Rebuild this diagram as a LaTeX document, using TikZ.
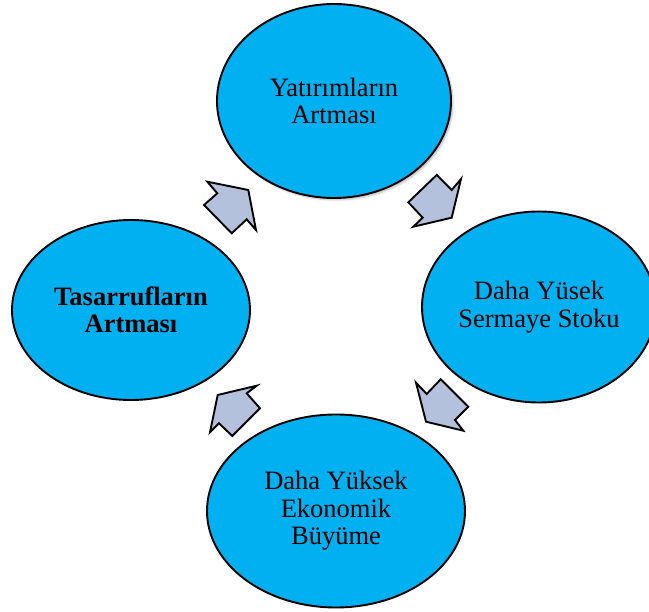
\documentclass[tikz,border=0pt]{standalone}
\usepackage{fontspec}
\setmainfont{Liberation Serif}
\usetikzlibrary{shapes.geometric,shadows.blur}
\definecolor{bubble}{HTML}{00B0F0}
\definecolor{arrowfill}{HTML}{B4C1DC}
\tikzset{
  bubble/.style={ellipse, draw=black, line width=1.9pt, fill=bubble,
    align=center, inner sep=0pt,
    font=\fontsize{26.5}{27.5}\selectfont},
  blockarrow/.style={draw=black, line width=1.9pt, fill=arrowfill, line join=miter}
}
\begin{document}
\begin{tikzpicture}[x=1pt,y=-1pt]
\useasboundingbox (0,0) rectangle (649,612);
\begin{scope}
\clip (0,0) rectangle (649,612);

% the four stages of the cycle
\node[bubble, minimum width=234pt, minimum height=194pt,
  blur shadow={shadow xshift=2pt, shadow yshift=-2pt, shadow blur steps=6, shadow opacity=25}]
  (invest) at (334,101) {Yatırımların\\Artması};
\node[bubble, minimum width=234pt, minimum height=191pt] (stock) at (539,307)
  {Daha Yüsek\\Sermaye Stoku};
\node[bubble, minimum width=258pt, minimum height=193pt] (growth) at (336,511)
  {Daha Yüksek\\Ekonomik\\Büyüme};
\node[bubble, minimum width=238pt, minimum height=180pt, font=\fontsize{26.5}{27.5}\selectfont\bfseries]
  (saving) at (131,310) {Tasarrufların\\Artması};

% block arrows between the stages
\draw[blockarrow] (207.3,181.7) -- (248.3,190) -- (256,230) -- (246.7,219.3)
  -- (231.7,233.3) -- (204,205) -- (217.3,193.3) -- cycle;
\draw[blockarrow] (436.7,175) -- (451.7,190) -- (461,179) -- (451.7,217.7)
  -- (413.3,226.7) -- (422.7,217.7) -- (408.3,202.3) -- cycle;
\draw[blockarrow] (416,382.7) -- (426.7,394) -- (440.7,379.3) -- (468.3,406.7)
  -- (455,420) -- (463.3,430.7) -- (426,421.7) -- cycle;
\draw[blockarrow] (256.7,385.7) -- (246.7,393.3) -- (260,408.3) -- (232.3,436)
  -- (219,423.3) -- (210,432.3) -- (217.7,395) -- cycle;
\end{scope}
\end{tikzpicture}
\end{document}
